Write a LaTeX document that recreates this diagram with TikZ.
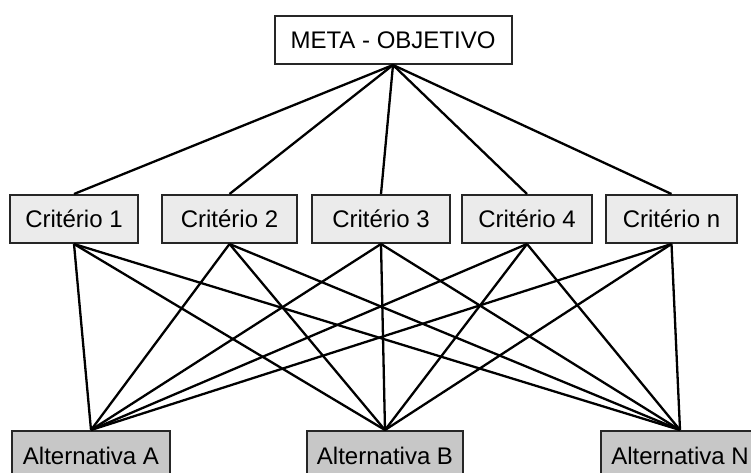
\documentclass[tikz,border=0pt]{standalone}
\usepackage{fontspec}
\setmainfont{Liberation Sans}
\usetikzlibrary{positioning}

\begin{document}
\begin{tikzpicture}[
    x=1pt, y=-1pt,
    every node/.style={draw=black!85, line width=2pt, rectangle, inner sep=0pt, minimum height=48pt, font=\fontsize{24}{28}\selectfont},
    meta/.style={fill=white, minimum width=237pt},
    crit/.style={fill=black!8},
    alt/.style={fill=black!22, minimum height=50pt},
    link/.style={line width=2.3pt}
]
\useasboundingbox (0,0) rectangle (751,473);
\node[meta] (meta) at (393,40) {META - OBJETIVO};
\node[crit, minimum width=128pt] (c1) at (74,219) {Critério 1};
\node[crit, minimum width=135pt] (c2) at (229.5,219) {Critério 2};
\node[crit, minimum width=138pt] (c3) at (381,219) {Critério 3};
\node[crit, minimum width=130pt] (c4) at (527,219) {Critério 4};
\node[crit, minimum width=131pt] (cn) at (671.5,219) {Critério n};
\node[alt, minimum width=158pt] (aA) at (91,456) {Alternativa A};
\node[alt, minimum width=156pt] (aB) at (385,456) {Alternativa B};
\node[alt, minimum width=158pt] (aN) at (680,456) {Alternativa N};
\foreach \c in {c1,c2,c3,c4,cn} {
    \draw[link] (meta.south) -- (\c.north);
    \foreach \a in {aA,aB,aN}
        \draw[link] (\c.south) -- (\a.north);
}
\end{tikzpicture}
\end{document}
